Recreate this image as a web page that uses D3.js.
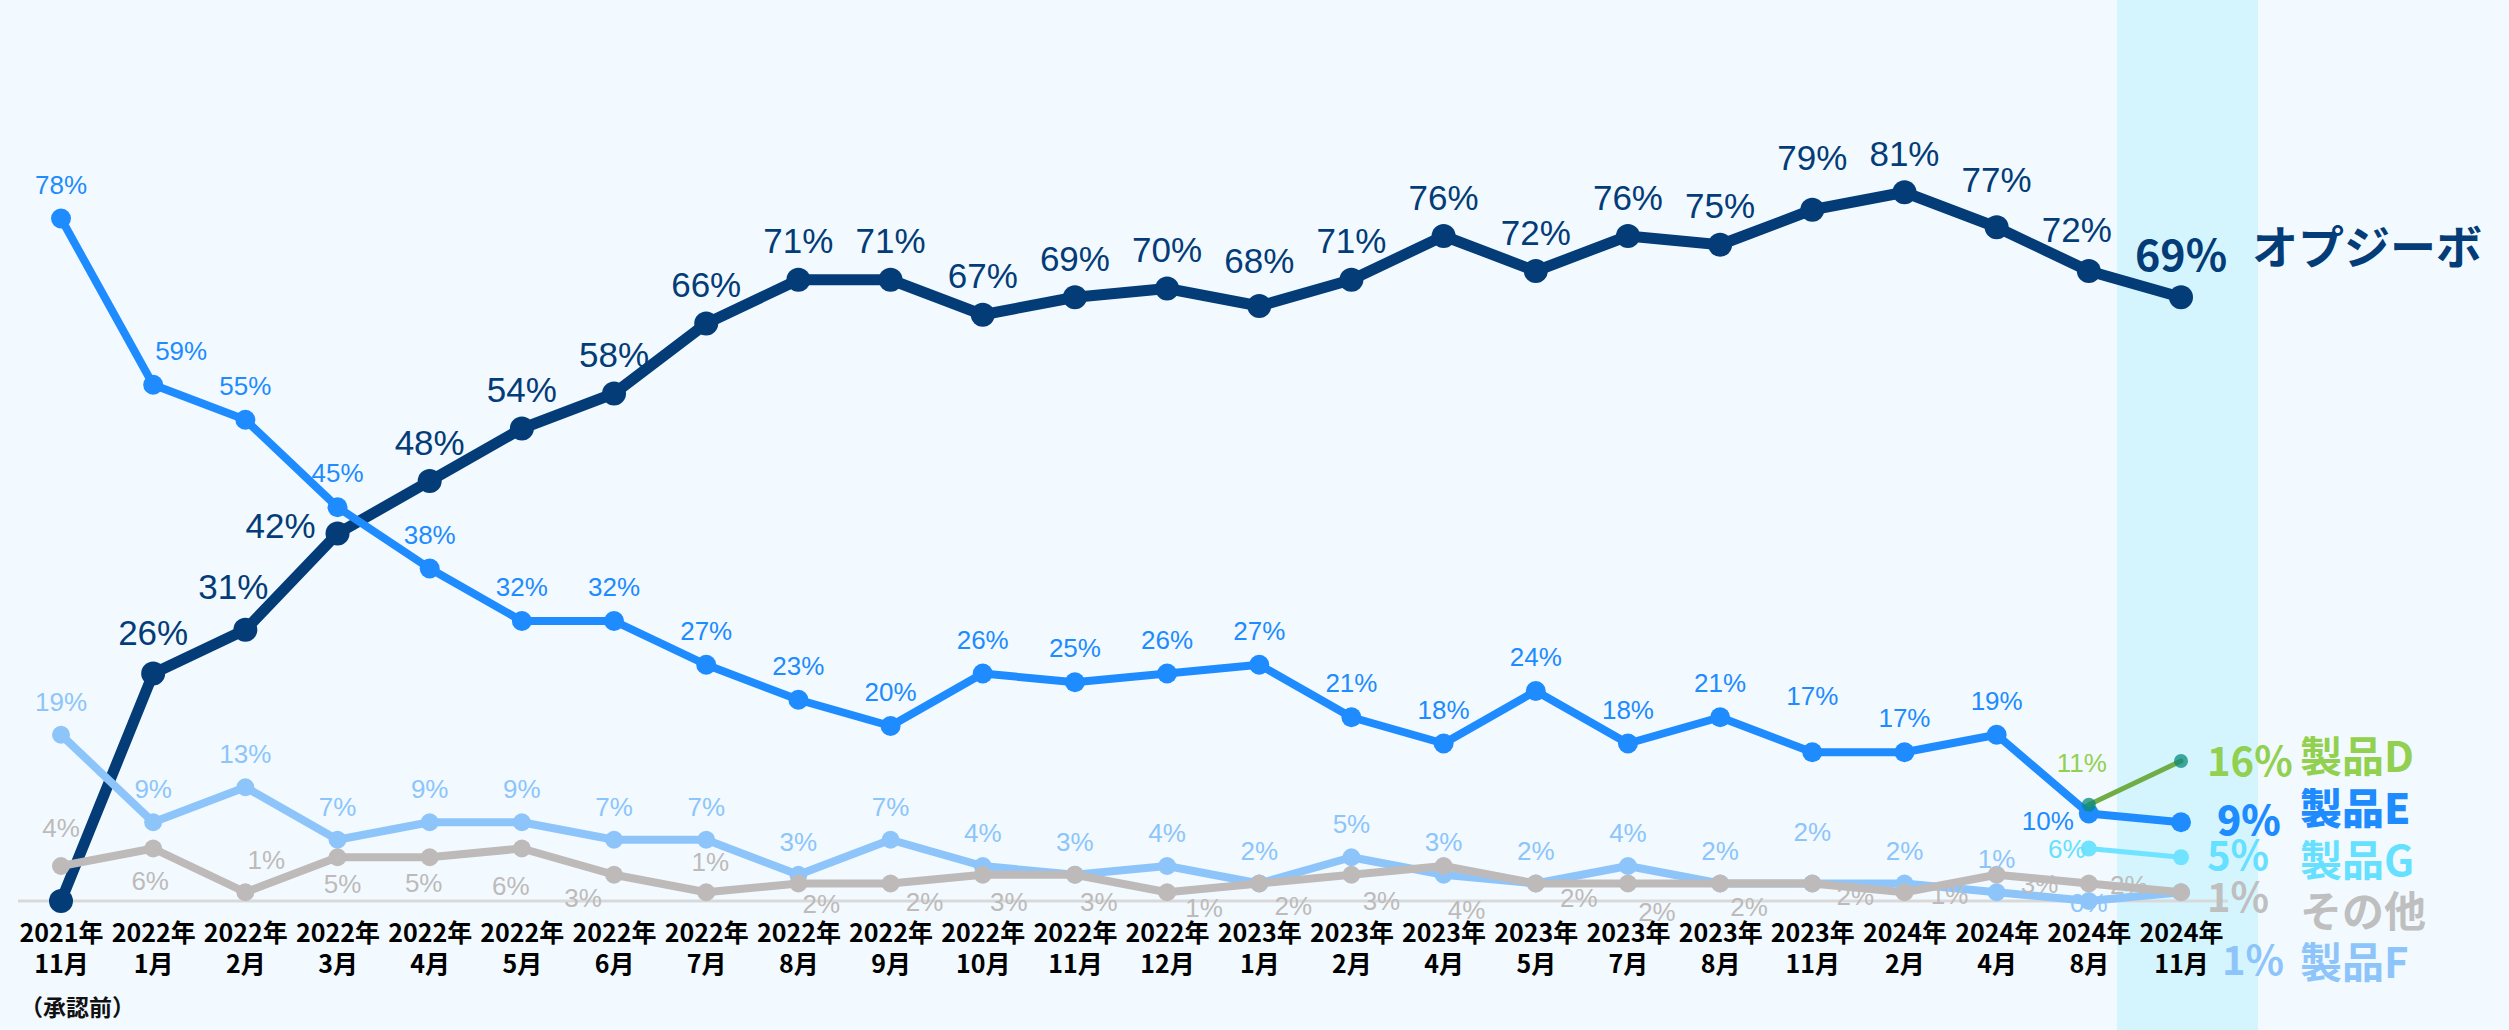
<!DOCTYPE html>
<html><head><meta charset="utf-8">
<script src="https://cdn.jsdelivr.net/npm/d3@7"></script>
<style>
html,body{margin:0;padding:0;background:#f2faff;}
svg{display:block;}
</style></head>
<body>
<svg id="chart" width="2509" height="1030"></svg>
<script>
// ---------------- DATA ----------------
const years  = ["2021年","2022年","2022年","2022年","2022年","2022年","2022年","2022年","2022年","2022年","2022年","2022年","2022年","2023年","2023年","2023年","2023年","2023年","2023年","2023年","2024年","2024年","2024年","2024年"];
const months = ["11月","1月","2月","3月","4月","5月","6月","7月","8月","9月","10月","11月","12月","1月","2月","4月","5月","7月","8月","11月","2月","4月","8月","11月"];
const firstNote = "（承認前）";

const opdivo   = [0,26,31,42,48,54,58,66,71,71,67,69,70,68,71,76,72,76,75,79,81,77,72,69];
const productE = [78,59,55,45,38,32,32,27,23,20,26,25,26,27,21,18,24,18,21,17,17,19,10,9];
const productF = [19,9,13,7,9,9,7,7,3,7,4,3,4,2,5,3,2,4,2,2,2,1,0,1];
const others   = [4,6,1,5,5,6,3,1,2,2,3,3,1,2,3,4,2,2,2,2,1,3,2,1];
const productD = [null,null,null,null,null,null,null,null,null,null,null,null,null,null,null,null,null,null,null,null,null,null,11,16];
const productG = [null,null,null,null,null,null,null,null,null,null,null,null,null,null,null,null,null,null,null,null,null,null,6,5];

const seriesNames = ["オプジーボ","製品D","製品E","製品G","その他","製品F"];

// ---------------- LAYOUT / STYLE ----------------
const W = 2509, H = 1030;
const NUM = "'Liberation Sans', Arial, sans-serif";
const JP  = "'Noto Sans CJK JP', 'Noto Sans', sans-serif";
const C = {navy:"#043c78", E:"#1e8bff", F:"#8dc5fb", gray:"#bebaba", Dline:"#70ad47", Dtext:"#92d050", G:"#6fe3ff", Gtext:"#66e0ff", otherText:"#bfbfbf"};

// label centre offsets (dx, dy) relative to the point
const navyOff = {def:[0,-39], 1:[0,-41], 2:[-12,-43], 3:[-57,-8], 13:[0,-46], 19:[0,-52], 21:[0,-48], 22:[-12,-42]};
const eOff = {def:[0,-34], 1:[28,-34], 19:[0,-56], 22:[-41,7]};
const fOff = {def:[0,-33], 19:[0,-52], 22:[0,2]};
const grayOff = [[0,-38],[-3,32],[21,-32],[5,27],[-6,26],[-11,37],[-31,23],[4,-30],[23,20],[34,18],[26,27],[24,27],[37,16],[34,22],[30,26],[23,44],[43,14],[29,28],[29,23],[43,12],[45,3],[43,9],[40,1]];
const dOff = {def:[-7,-42]};
const gOff = {def:[-22,0]};

const svg = d3.select("#chart");
const idx = d3.range(years.length);
const x = d3.scalePoint().domain(idx).range([61, 2181]);
const y = d3.scaleLinear().domain([0,100]).range([901, 26]);
const last = idx.length - 1;

// background
svg.append("rect").attr("x",0).attr("y",0).attr("width",W).attr("height",H).attr("fill","#f2faff");
// highlight band for latest period
svg.append("rect").attr("x", x(last) - 64).attr("y", 0).attr("width", 141).attr("height", H).attr("fill", "#d5f5fe");

// baseline
svg.append("line").attr("x1",18).attr("x2",2228).attr("y1",y(0)).attr("y2",y(0))
  .attr("stroke","#d9d9d9").attr("stroke-width",3);

// x axis labels
const xAxis = d3.axisBottom(x).tickSize(0).tickFormat(() => "");
const axisG = svg.append("g").attr("transform",`translate(0,${y(0)})`).call(xAxis);
axisG.select(".domain").remove();
axisG.selectAll(".tick").each(function(d){
  const g = d3.select(this);
  g.append("text").attr("y", 30).attr("text-anchor","middle").attr("dominant-baseline","central")
    .attr("font-family", JP).attr("font-weight","bold").attr("font-size",25).attr("fill","#000").text(years[d]);
  g.append("text").attr("y", 61).attr("text-anchor","middle").attr("dominant-baseline","central")
    .attr("font-family", JP).attr("font-weight","bold").attr("font-size",25).attr("fill","#000").text(months[d]);
});
svg.append("text").attr("x",20).attr("y",1006).attr("dominant-baseline","central")
  .attr("font-family", JP).attr("font-weight","bold").attr("font-size",23).attr("fill","#111").text(firstNote);

// series drawing helper
function drawSeries(values, color, width, r, markerColor, markerOpacity){
  const pts = values.map((v,i)=>({i,v})).filter(p=>p.v!==null);
  const line = d3.line().x(p=>x(p.i)).y(p=>y(p.v));
  const g = svg.append("g");
  g.append("path").datum(pts).attr("d", line).attr("fill","none").attr("stroke",color)
    .attr("stroke-width",width).attr("stroke-linejoin","round").attr("stroke-linecap","round");
  g.selectAll("circle").data(pts).join("circle").attr("cx",p=>x(p.i)).attr("cy",p=>y(p.v))
    .attr("r",r).attr("fill",markerColor||color).attr("fill-opacity", markerOpacity==null?1:markerOpacity);
  return pts;
}
function drawLabels(values, color, size, offs, skip){
  const pts = values.map((v,i)=>({i,v})).filter(p=>p.v!==null && !skip.includes(p.i));
  svg.append("g").selectAll("text").data(pts).join("text")
    .attr("x", p => x(p.i) + (Array.isArray(offs) ? offs[p.i][0] : (offs[p.i]||offs.def)[0]))
    .attr("y", p => y(p.v) + (Array.isArray(offs) ? offs[p.i][1] : (offs[p.i]||offs.def)[1]))
    .attr("text-anchor","middle").attr("dominant-baseline","central")
    .attr("font-family", NUM).attr("font-size", size).attr("fill", color)
    .text(p => p.v + "%");
}

// draw order: navy at bottom, then E, F, others, D, G
drawSeries(opdivo, C.navy, 11, 12);
drawSeries(productE, C.E, 8, 10);
drawSeries(productF, C.F, 8, 9);
drawSeries(others, C.gray, 8, 9);
drawSeries(productD, C.Dline, 5, 7, "#0a8a7a", 0.75);
drawSeries(productG, C.G, 5, 8);

// point labels
drawLabels(opdivo, C.navy, 35, navyOff, [0, last]);
drawLabels(productF, C.F, 26, fOff, [last]);
drawLabels(others, C.gray, 26, grayOff, [last]);
drawLabels(productE, C.E, 26, eOff, [last]);
drawLabels(productD, C.Dtext, 26, dOff, [last]);
drawLabels(productG, C.Gtext, 26, gOff, [last]);

// end labels
svg.append("text").attr("x", x(last)).attr("y", y(opdivo[last]) - 45)
  .attr("text-anchor","middle").attr("dominant-baseline","central")
  .attr("font-family", JP).attr("font-weight","bold").attr("font-size",43).attr("fill",C.navy)
  .text(opdivo[last] + "%");
svg.append("text").attr("x", x(last) + 71).attr("y", y(opdivo[last]) - 53)
  .attr("dominant-baseline","central")
  .attr("font-family", JP).attr("font-weight","bold").attr("font-size",46).attr("fill",C.navy)
  .text(seriesNames[0]);

const rows = [
  {val: productD[last], name: seriesNames[1], pc: C.Dtext, nc: C.Dtext, pdx: 0,  pdy: -2, ndy: -8, pw: 700, nw: 700},
  {val: productE[last], name: seriesNames[2], pc: C.E,     nc: C.E,     pdx: 10, pdy: 7,  ndy: -6, pw: 900, nw: 900},
  {val: productG[last], name: seriesNames[3], pc: C.Gtext, nc: C.Gtext, pdx: 0,  pdy: -8, ndy: -4, pw: 700, nw: 700},
  {val: others[last],   name: seriesNames[4], pc: C.otherText, nc: C.otherText, pdx: 0, pdy: -16, ndy: -3, pw: 700, nw: 700},
  {val: productF[last], name: seriesNames[5], pc: C.F,     nc: C.F,     pdx: 15, pdy: -3, ndy: -2, pw: 700, nw: 700}
];
const rowTop = y(productD[last]);
rows.forEach((r,k)=>{
  const cy = rowTop + k*50;
  svg.append("text").attr("x", x(last) + 26 + r.pdx).attr("y", cy + r.pdy)
    .attr("dominant-baseline","central").attr("font-family", JP).attr("font-weight", r.pw)
    .attr("font-size",40).attr("fill", r.pc).text(r.val + "%");
  svg.append("text").attr("x", x(last) + 119).attr("y", cy + r.ndy)
    .attr("dominant-baseline","central").attr("font-family", JP).attr("font-weight", r.nw)
    .attr("font-size",42).attr("fill", r.nc).text(r.name);
});
</script>
</body></html>
